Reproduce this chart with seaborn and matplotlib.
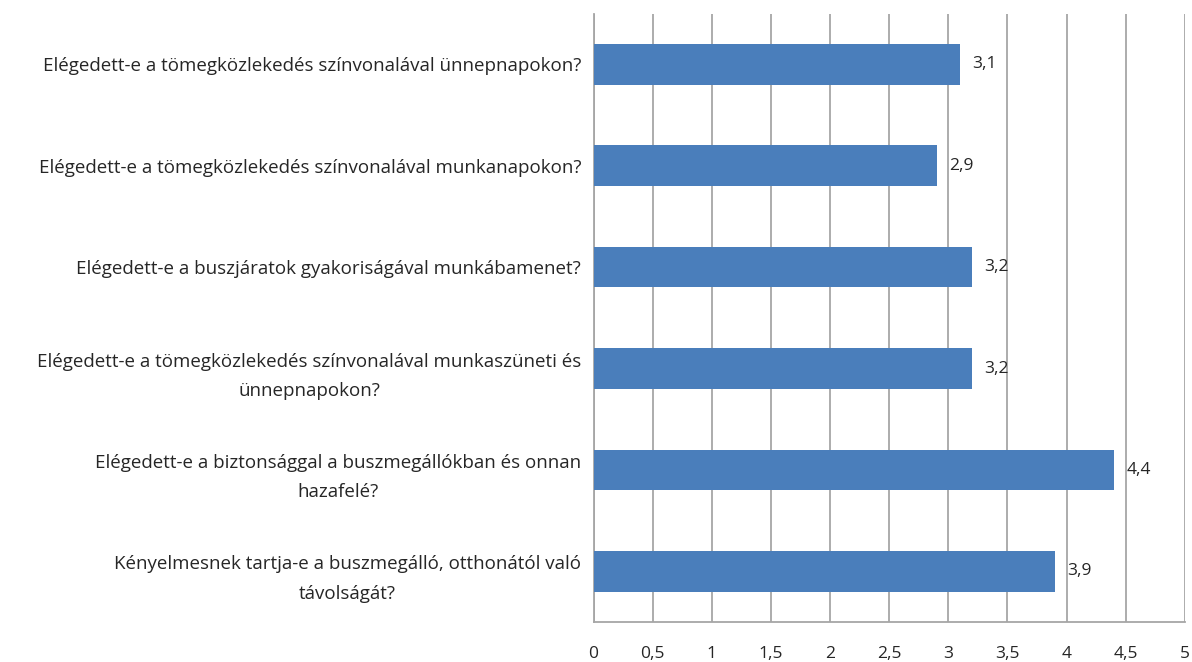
import matplotlib
matplotlib.use("Agg")
import matplotlib.pyplot as plt
import matplotlib.ticker as mticker
import pandas as pd
import seaborn as sns

# kérdések és átlagpontszámok
questions = [
    "Elégedett-e a tömegközlekedés színvonalával ünnepnapokon?",
    "Elégedett-e a tömegközlekedés színvonalával munkanapokon?",
    "Elégedett-e a buszjáratok gyakoriságával munkábamenet?",
    "Elégedett-e a tömegközlekedés színvonalával munkaszüneti és\nünnepnapokon?",
    "Elégedett-e a biztonsággal a buszmegállókban és onnan\nhazafelé?",
    "Kényelmesnek tartja-e a buszmegálló, otthonától való\ntávolságát?",
]
scores = [3.1, 2.9, 3.2, 3.2, 4.4, 3.9]
x_ticks = [0, 0.5, 1, 1.5, 2, 2.5, 3, 3.5, 4, 4.5, 5]

df = pd.DataFrame({"kerdes": questions, "pont": scores})

sns.set_style("white")
plt.rcParams["font.family"] = ["Open Sans", "DejaVu Sans"]

fig = plt.figure(figsize=(11.92, 6.62), dpi=100)
ax = fig.add_axes([0.498, 0.0604, 0.496, 0.919])

sns.barplot(data=df, x="pont", y="kerdes", orient="h", color="#4A7EBB",
            saturation=1, width=0.4, linewidth=0, ax=ax, zorder=3)

ax.set_xlim(0, 5)
ax.set_xticks(x_ticks)
ax.xaxis.set_major_formatter(mticker.FuncFormatter(
    lambda v, p: f"{v:g}".replace(".", ",")))
ax.grid(axis="x", color="#a6a6a6", linewidth=1.3, zorder=0)
ax.set_axisbelow(True)
ax.set_xlabel("")
ax.set_ylabel("")

for s in ["top", "right"]:
    ax.spines[s].set_visible(False)
for s in ["left", "bottom"]:
    ax.spines[s].set_color("#a6a6a6")
    ax.spines[s].set_linewidth(1.3)

txt = "#262626"
ax.tick_params(axis="x", direction="out", length=6, width=1.3,
               color="#a6a6a6", labelsize=12.5, labelcolor=txt, pad=11)
ax.tick_params(axis="y", length=0, labelsize=13.5, labelcolor=txt, pad=9)
for lbl in ax.get_yticklabels():
    lbl.set_multialignment("center")
    lbl.set_linespacing(1.8)

for i, v in enumerate(scores):
    ax.annotate(f"{v:.1f}".replace(".", ","), (v, i), xytext=(9, 0),
                textcoords="offset points", va="center", ha="left",
                fontsize=12.5, color=txt)

fig.savefig("out.png", dpi=100)
